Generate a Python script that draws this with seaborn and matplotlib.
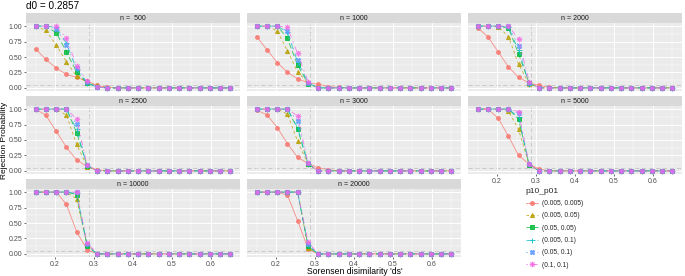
import matplotlib
matplotlib.use("Agg")
import matplotlib.pyplot as plt
from matplotlib.lines import Line2D
import seaborn as sns
import pandas as pd

# Data
x_ds = [0.150, 0.176, 0.203, 0.229, 0.255, 0.282, 0.308, 0.334, 0.361, 0.387,
        0.413, 0.439, 0.466, 0.492, 0.518, 0.545, 0.571, 0.597, 0.624, 0.650]

series_labels = ["(0.005, 0.005)", "(0.005, 0.05)", "(0.05, 0.05)",
                 "(0.005, 0.1)", "(0.05, 0.1)", "(0.1, 0.1)"]

n_values = [500, 1000, 2000, 2500, 3000, 5000, 10000, 20000]
strip_labels = ["n =  500", "n = 1000", "n = 2000", "n = 2500",
                "n = 3000", "n = 5000", "n = 10000", "n = 20000"]

rej_500 = [
    [0.63, 0.46, 0.32, 0.22, 0.17, 0.11, 0.04, 0.01, 0, 0, 0, 0, 0, 0, 0, 0, 0, 0, 0, 0],
    [1.00, 0.93, 0.69, 0.42, 0.19, 0.09, 0.04, 0.00, 0, 0, 0, 0, 0, 0, 0, 0, 0, 0, 0, 0],
    [1.00, 1.00, 0.89, 0.58, 0.26, 0.08, 0.01, 0.00, 0, 0, 0, 0, 0, 0, 0, 0, 0, 0, 0, 0],
    [1.00, 1.00, 0.98, 0.72, 0.30, 0.08, 0.01, 0.00, 0, 0, 0, 0, 0, 0, 0, 0, 0, 0, 0, 0],
    [1.00, 1.00, 0.96, 0.70, 0.32, 0.09, 0.01, 0.00, 0, 0, 0, 0, 0, 0, 0, 0, 0, 0, 0, 0],
    [1.00, 1.00, 1.00, 0.80, 0.36, 0.11, 0.02, 0.00, 0, 0, 0, 0, 0, 0, 0, 0, 0, 0, 0, 0],
]
rej_1000 = [
    [0.83, 0.62, 0.41, 0.25, 0.15, 0.08, 0.06, 0.02, 0.01, 0, 0, 0, 0, 0, 0, 0, 0, 0, 0, 0],
    [1.00, 1.00, 0.92, 0.60, 0.26, 0.08, 0.01, 0.00, 0, 0, 0, 0, 0, 0, 0, 0, 0, 0, 0, 0],
    [1.00, 1.00, 1.00, 0.80, 0.37, 0.07, 0.00, 0.00, 0, 0, 0, 0, 0, 0, 0, 0, 0, 0, 0, 0],
    [1.00, 1.00, 1.00, 0.90, 0.42, 0.08, 0.00, 0.00, 0, 0, 0, 0, 0, 0, 0, 0, 0, 0, 0, 0],
    [1.00, 1.00, 1.00, 0.92, 0.45, 0.08, 0.00, 0.00, 0, 0, 0, 0, 0, 0, 0, 0, 0, 0, 0, 0],
    [1.00, 1.00, 1.00, 0.98, 0.56, 0.10, 0.00, 0.00, 0, 0, 0, 0, 0, 0, 0, 0, 0, 0, 0, 0],
]
rej_2000 = [
    [0.97, 0.83, 0.58, 0.34, 0.17, 0.08, 0.04, 0.01, 0, 0, 0, 0, 0, 0, 0, 0, 0, 0, 0, 0],
    [1.00, 1.00, 0.99, 0.83, 0.38, 0.07, 0.00, 0.00, 0, 0, 0, 0, 0, 0, 0, 0, 0, 0, 0, 0],
    [1.00, 1.00, 1.00, 0.97, 0.55, 0.08, 0.00, 0.00, 0, 0, 0, 0, 0, 0, 0, 0, 0, 0, 0, 0],
    [1.00, 1.00, 1.00, 0.98, 0.61, 0.07, 0.00, 0.00, 0, 0, 0, 0, 0, 0, 0, 0, 0, 0, 0, 0],
    [1.00, 1.00, 1.00, 1.00, 0.68, 0.08, 0.00, 0.00, 0, 0, 0, 0, 0, 0, 0, 0, 0, 0, 0, 0],
    [1.00, 1.00, 1.00, 1.00, 0.79, 0.10, 0.00, 0.00, 0, 0, 0, 0, 0, 0, 0, 0, 0, 0, 0, 0],
]
rej_2500 = [
    [1.00, 0.90, 0.64, 0.38, 0.18, 0.07, 0.02, 0.00, 0, 0, 0, 0, 0, 0, 0, 0, 0, 0, 0, 0],
    [1.00, 1.00, 1.00, 0.90, 0.43, 0.07, 0.00, 0.00, 0, 0, 0, 0, 0, 0, 0, 0, 0, 0, 0, 0],
    [1.00, 1.00, 1.00, 1.00, 0.62, 0.08, 0.00, 0.00, 0, 0, 0, 0, 0, 0, 0, 0, 0, 0, 0, 0],
    [1.00, 1.00, 1.00, 1.00, 0.67, 0.08, 0.00, 0.00, 0, 0, 0, 0, 0, 0, 0, 0, 0, 0, 0, 0],
    [1.00, 1.00, 1.00, 1.00, 0.76, 0.09, 0.00, 0.00, 0, 0, 0, 0, 0, 0, 0, 0, 0, 0, 0, 0],
    [1.00, 1.00, 1.00, 1.00, 0.84, 0.10, 0.00, 0.00, 0, 0, 0, 0, 0, 0, 0, 0, 0, 0, 0, 0],
]
rej_3000 = [
    [0.98, 0.91, 0.70, 0.44, 0.22, 0.12, 0.05, 0.02, 0, 0, 0, 0, 0, 0, 0, 0, 0, 0, 0, 0],
    [1.00, 1.00, 1.00, 0.92, 0.48, 0.11, 0.00, 0.00, 0, 0, 0, 0, 0, 0, 0, 0, 0, 0, 0, 0],
    [1.00, 1.00, 1.00, 1.00, 0.68, 0.11, 0.00, 0.00, 0, 0, 0, 0, 0, 0, 0, 0, 0, 0, 0, 0],
    [1.00, 1.00, 1.00, 1.00, 0.70, 0.11, 0.00, 0.00, 0, 0, 0, 0, 0, 0, 0, 0, 0, 0, 0, 0],
    [1.00, 1.00, 1.00, 1.00, 0.81, 0.12, 0.00, 0.00, 0, 0, 0, 0, 0, 0, 0, 0, 0, 0, 0, 0],
    [1.00, 1.00, 1.00, 1.00, 0.89, 0.12, 0.00, 0.00, 0, 0, 0, 0, 0, 0, 0, 0, 0, 0, 0, 0],
]
rej_5000 = [
    [1.00, 1.00, 0.85, 0.56, 0.25, 0.11, 0.03, 0.00, 0, 0, 0, 0, 0, 0, 0, 0, 0, 0, 0, 0],
    [1.00, 1.00, 1.00, 0.97, 0.67, 0.10, 0.00, 0.00, 0, 0, 0, 0, 0, 0, 0, 0, 0, 0, 0, 0],
    [1.00, 1.00, 1.00, 1.00, 0.84, 0.10, 0.00, 0.00, 0, 0, 0, 0, 0, 0, 0, 0, 0, 0, 0, 0],
    [1.00, 1.00, 1.00, 1.00, 0.87, 0.10, 0.00, 0.00, 0, 0, 0, 0, 0, 0, 0, 0, 0, 0, 0, 0],
    [1.00, 1.00, 1.00, 1.00, 0.93, 0.11, 0.00, 0.00, 0, 0, 0, 0, 0, 0, 0, 0, 0, 0, 0, 0],
    [1.00, 1.00, 1.00, 1.00, 0.96, 0.11, 0.00, 0.00, 0, 0, 0, 0, 0, 0, 0, 0, 0, 0, 0, 0],
]
rej_10000 = [
    [1.00, 1.00, 1.00, 0.80, 0.36, 0.07, 0.00, 0.00, 0, 0, 0, 0, 0, 0, 0, 0, 0, 0, 0, 0],
    [1.00, 1.00, 1.00, 1.00, 0.89, 0.15, 0.00, 0.00, 0, 0, 0, 0, 0, 0, 0, 0, 0, 0, 0, 0],
    [1.00, 1.00, 1.00, 1.00, 0.96, 0.13, 0.00, 0.00, 0, 0, 0, 0, 0, 0, 0, 0, 0, 0, 0, 0],
    [1.00, 1.00, 1.00, 1.00, 0.98, 0.14, 0.00, 0.00, 0, 0, 0, 0, 0, 0, 0, 0, 0, 0, 0, 0],
    [1.00, 1.00, 1.00, 1.00, 1.00, 0.16, 0.00, 0.00, 0, 0, 0, 0, 0, 0, 0, 0, 0, 0, 0, 0],
    [1.00, 1.00, 1.00, 1.00, 1.00, 0.18, 0.00, 0.00, 0, 0, 0, 0, 0, 0, 0, 0, 0, 0, 0, 0],
]
rej_20000 = [
    [1.00, 1.00, 1.00, 0.95, 0.54, 0.08, 0.00, 0.00, 0, 0, 0, 0, 0, 0, 0, 0, 0, 0, 0, 0],
    [1.00, 1.00, 1.00, 1.00, 1.00, 0.10, 0.00, 0.00, 0, 0, 0, 0, 0, 0, 0, 0, 0, 0, 0, 0],
    [1.00, 1.00, 1.00, 1.00, 1.00, 0.12, 0.00, 0.00, 0, 0, 0, 0, 0, 0, 0, 0, 0, 0, 0, 0],
    [1.00, 1.00, 1.00, 1.00, 1.00, 0.14, 0.00, 0.00, 0, 0, 0, 0, 0, 0, 0, 0, 0, 0, 0, 0],
    [1.00, 1.00, 1.00, 1.00, 1.00, 0.16, 0.00, 0.00, 0, 0, 0, 0, 0, 0, 0, 0, 0, 0, 0, 0],
    [1.00, 1.00, 1.00, 1.00, 1.00, 0.19, 0.00, 0.00, 0, 0, 0, 0, 0, 0, 0, 0, 0, 0, 0, 0],
]

d0 = 0.2857
alpha_level = 0.05

# ggplot-like styling
colors = ["#F8766D", "#B79F00", "#00BA38", "#00BFC4", "#619CFF", "#F564E3"]
markers = ["o", "^", "s", "+", "X", (8, 2, 0)]
marker_sizes = [2.8, 3.0, 2.8, 3.6, 3.2, 3.8]
linestyles = ["-", (0, (2, 2)), (0, (4, 2)), (0, (4, 4)), (0, (1, 3)), (0, (1, 3, 4, 3))]

sns.set_theme(style="darkgrid")
plt.rcParams["font.family"] = ["Liberation Sans", "DejaVu Sans"]
plt.rcParams["lines.scale_dashes"] = False

all_rej = [rej_500, rej_1000, rej_2000, rej_2500, rej_3000, rej_5000, rej_10000, rej_20000]
rows = []
for n, rej in zip(n_values, all_rej):
    for lab, vals in zip(series_labels, rej):
        for xv, yv in zip(x_ds, vals):
            rows.append({"n": n, "p10_p01": lab, "ds": xv, "rej": yv})
df = pd.DataFrame(rows)

W, H = 685, 276
fig = plt.figure(figsize=(W / 100, H / 100), dpi=100)

col_x = [26, 247, 468]
panel_w = 214
strip_top = [13, 96, 179]
strip_h = 10
panel_h = 68

def rect(x0, ytop, w, h):
    return [x0 / W, 1 - (ytop + h) / H, w / W, h / H]

tick_col = "#4D4D4D"
for i, n in enumerate(n_values):
    r, c = divmod(i, 3)
    sax = fig.add_axes(rect(col_x[c], strip_top[r], panel_w, strip_h))
    sax.set_facecolor("#D9D9D9")
    sax.set_xticks([]); sax.set_yticks([])
    sax.grid(False)
    for s in sax.spines.values():
        s.set_visible(False)
    sax.text(0.5, 0.45, strip_labels[i], ha="center", va="center",
             fontsize=5.0, color="#1A1A1A", transform=sax.transAxes)

    ax = fig.add_axes(rect(col_x[c], strip_top[r] + strip_h, panel_w, panel_h))
    ax.set_facecolor("#EBEBEB")
    sub = df[df["n"] == n]
    for k, lab in enumerate(series_labels):
        d = sub[sub["p10_p01"] == lab]
        sns.lineplot(data=d, x="ds", y="rej", ax=ax, color=colors[k],
                     marker=markers[k], markersize=marker_sizes[k],
                     markeredgecolor=colors[k], markeredgewidth=0.7,
                     linestyle=linestyles[k], linewidth=0.6, alpha=0.8,
                     errorbar=None, legend=False)
    ax.axvline(d0, color="#BBBBBB", lw=0.5, ls=(0, (3, 2)), zorder=0.5)
    ax.axhline(alpha_level, color="#BBBBBB", lw=0.5, ls=(0, (3, 2)), zorder=0.5)

    ax.set_xlim(0.125, 0.675)
    ax.set_ylim(-0.05, 1.05)
    ax.set_xticks([0.2, 0.3, 0.4, 0.5, 0.6])
    ax.set_xticks([0.15, 0.25, 0.35, 0.45, 0.55, 0.65], minor=True)
    ax.set_yticks([0, 0.25, 0.5, 0.75, 1.0])
    ax.set_yticks([0.125, 0.375, 0.625, 0.875], minor=True)
    ax.grid(which="major", color="white", lw=0.7)
    ax.grid(which="minor", color="white", lw=0.35)
    for s in ax.spines.values():
        s.set_visible(False)
    ax.set_xlabel(""); ax.set_ylabel("")
    ax.tick_params(which="minor", length=0)
    ax.tick_params(which="major", length=1.6, width=0.5, color="#333333",
                   labelsize=5.0, labelcolor=tick_col, pad=1.2)

    show_x = (r == 2) or (r == 1 and c == 2)
    if show_x:
        ax.set_xticklabels(["0.2", "0.3", "0.4", "0.5", "0.6"])
        ax.tick_params(axis="x", bottom=True)
    else:
        ax.set_xticklabels([])
        ax.tick_params(axis="x", length=0)
    if c == 0:
        ax.set_yticklabels(["0.00", "0.25", "0.50", "0.75", "1.00"])
        ax.tick_params(axis="y", left=True)
    else:
        ax.set_yticklabels([])
        ax.tick_params(axis="y", length=0)

fig.text(26 / W, 1 - 1 / H, "d0 = 0.2857", ha="left", va="top", fontsize=7.2, color="black")
fig.text(1 / W, 1 - 140 / H, "Rejection Probability", rotation=90, ha="left", va="center",
         fontsize=6.0, color="black")
fig.text(355 / W, 1 - 271 / H, "Sorensen disimilarity 'ds'", ha="center", va="center",
         fontsize=6.2, color="black")

handles = [Line2D([0], [0], color=colors[k], marker=markers[k], markersize=marker_sizes[k],
                  markeredgecolor=colors[k], markeredgewidth=0.7, linestyle=linestyles[k],
                  linewidth=0.6, alpha=0.85) for k in range(6)]
leg = fig.legend(handles, series_labels, title="p10_p01", loc="upper left",
                 bbox_to_anchor=(523 / W, 1 - 185 / H), frameon=False, fontsize=4.8,
                 title_fontsize=6.0, handlelength=1.9, labelspacing=0.8,
                 handletextpad=0.5, alignment="left", borderaxespad=0)

fig.savefig("out.png", dpi=100)
